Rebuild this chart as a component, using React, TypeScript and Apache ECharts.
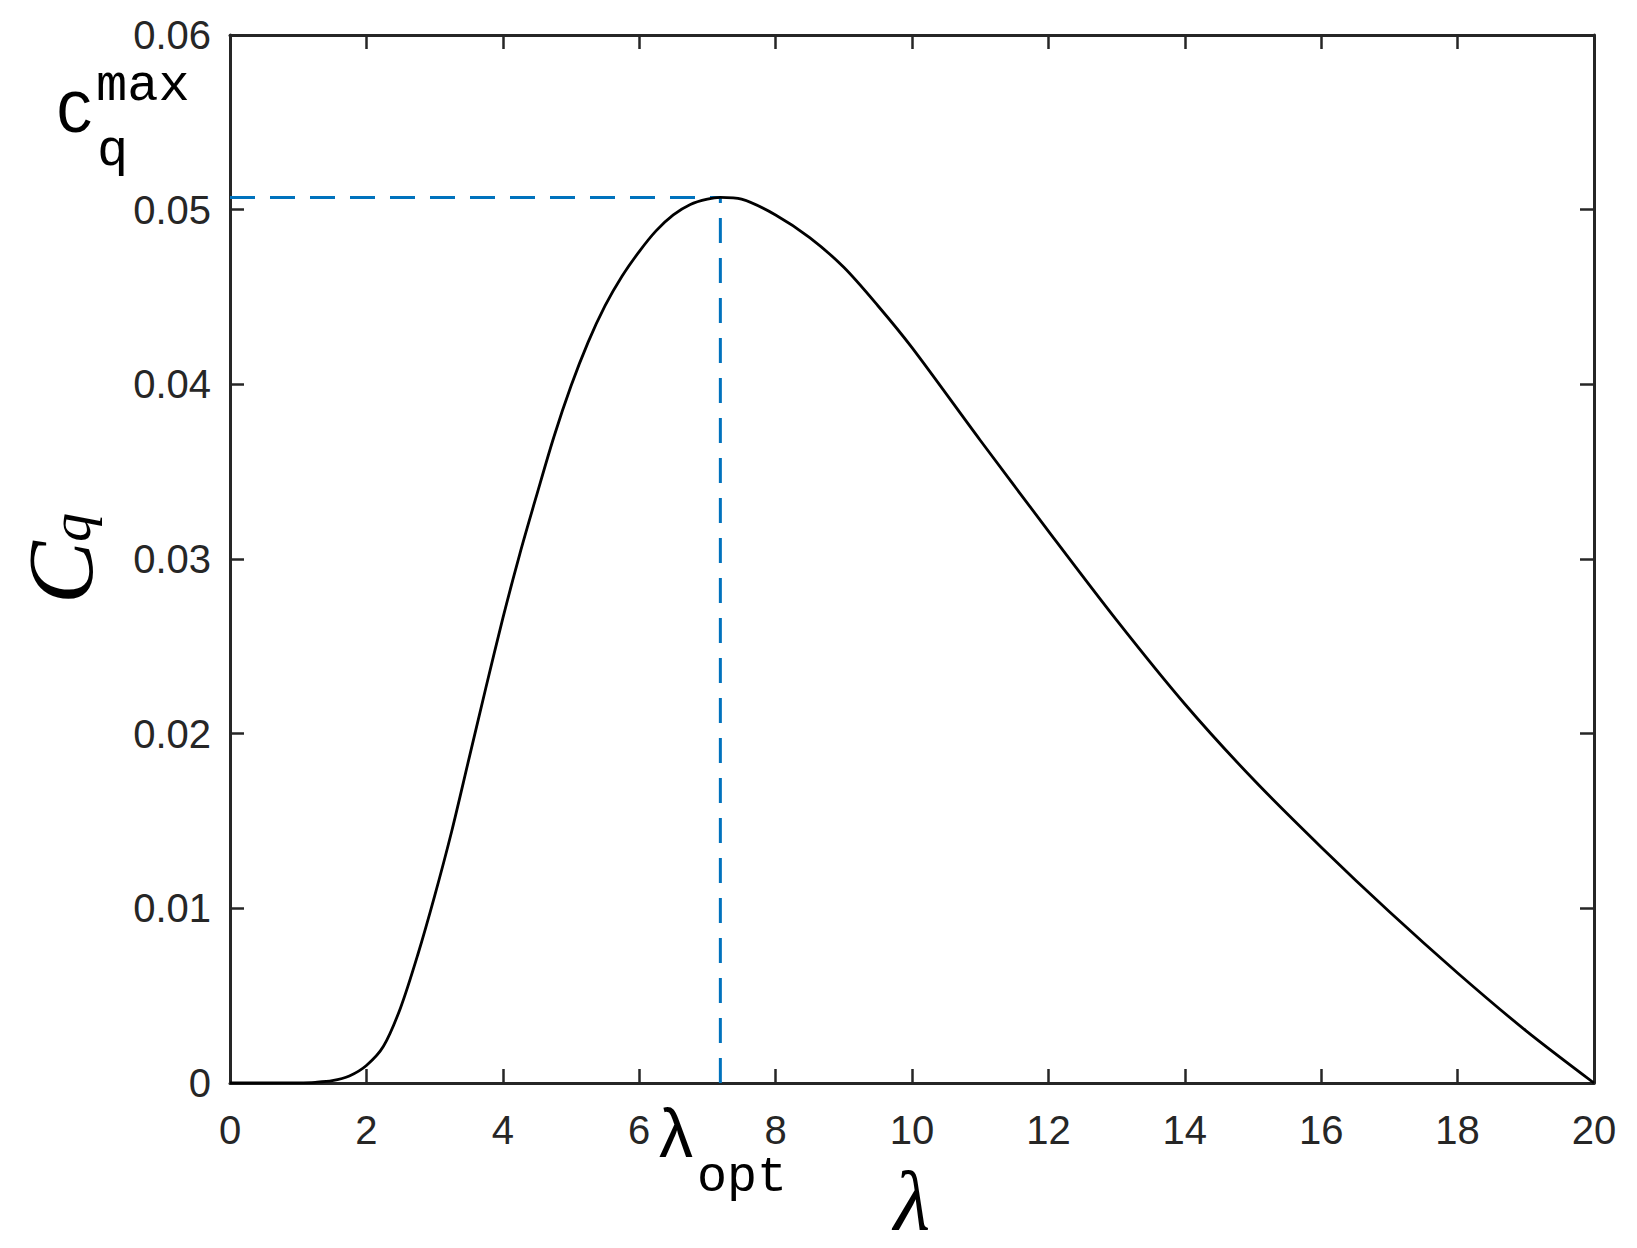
import React, { useEffect, useRef } from "react";
import * as echarts from "echarts";

// Tip-speed ratio λ and torque coefficient Cq
const LAMBDA = [
  0, 0.5, 1.0, 1.25, 1.5, 1.75, 2.0, 2.25, 2.5, 2.75, 3.0, 3.25, 3.5, 3.75, 4.0,
  4.25, 4.5, 4.75, 5.0, 5.25, 5.5, 5.75, 6.0, 6.25, 6.5, 6.75, 7.0, 7.19, 7.5, 8.0,
  8.5, 9.0, 9.5, 10, 11, 12, 13, 14, 15, 16, 17, 18, 19, 20,
];
const CQ = [
  0, 0, 0.00001, 0.00004, 0.00013, 0.0004, 0.001, 0.0021, 0.0043, 0.0073, 0.0107,
  0.0144, 0.0185, 0.0226, 0.0266, 0.0303, 0.0337, 0.037, 0.0399, 0.0424, 0.0445,
  0.0462, 0.0476, 0.0488, 0.0497, 0.0503, 0.0506, 0.0507, 0.0506, 0.0497, 0.0484,
  0.0467, 0.0445, 0.0421, 0.0368, 0.0316, 0.0265, 0.0217, 0.0174, 0.0135, 0.0098,
  0.0063, 0.003, 0,
];
const LAMBDA_OPT = 7.19;
const CQ_MAX = 0.0507;

const X_MIN = 0;
const X_MAX = 20;
const X_STEP = 2;
const Y_MIN = 0;
const Y_MAX = 0.06;
const Y_STEP = 0.01;

const AX = "#262626";
const BLUE = "#0072BD";
const SANS = "'Liberation Sans', Arial, Helvetica, sans-serif";
const MONO = "'Courier New', 'Liberation Mono', monospace";
const SERIF = "'Liberation Serif', 'Times New Roman', serif";

export default function App() {
  const ref = useRef<HTMLDivElement | null>(null);

  useEffect(() => {
    if (!ref.current) return;
    const chart = echarts.init(ref.current, null, { renderer: "svg" });

    const curve = LAMBDA.map((l, i) => [l, CQ[i]]);

    const labelStyle = { fontFamily: SANS, fontSize: 40, color: AX };

    const axisCommon = (pos: string, showLabel: boolean) => ({
      type: "value",
      position: pos,
      axisLine: { show: true, onZero: false, lineStyle: { color: AX, width: 3 } },
      axisTick: { show: true, inside: true, length: 14, lineStyle: { color: AX, width: 2.5 } },
      splitLine: { show: false },
      axisLabel: { show: showLabel, ...labelStyle },
    });

    const option: any = {
      animation: false,
      backgroundColor: "#ffffff",
      grid: { left: 230, right: 43, top: 35, bottom: 165, containLabel: false, outerBoundsMode: "none" },
      xAxis: [
        {
          ...axisCommon("bottom", true),
          min: X_MIN,
          max: X_MAX,
          interval: X_STEP,
          axisLabel: { show: true, ...labelStyle, margin: 27 },
          name: "λ",
          nameLocation: "middle",
          nameGap: 75,
          nameTextStyle: { fontFamily: SERIF, fontStyle: "italic", fontSize: 84, color: "#000" },
        },
        { ...axisCommon("top", false), min: X_MIN, max: X_MAX, interval: X_STEP },
      ],
      yAxis: [
        {
          ...axisCommon("left", true),
          min: Y_MIN,
          max: Y_MAX,
          interval: Y_STEP,
          axisLabel: {
            show: true,
            ...labelStyle,
            margin: 19,
            formatter: (v: number) => (v === 0 ? "0" : v.toFixed(2)),
          },
        },
        { ...axisCommon("right", false), min: Y_MIN, max: Y_MAX, interval: Y_STEP },
      ],
      series: [
        {
          type: "line",
          data: [[X_MIN, CQ_MAX], [LAMBDA_OPT, CQ_MAX]],
          showSymbol: false,
          lineStyle: { color: BLUE, width: 3, type: [25, 15] },
          silent: true,
          z: 2,
        },
        {
          type: "line",
          data: [[LAMBDA_OPT, Y_MIN], [LAMBDA_OPT, CQ_MAX]],
          showSymbol: false,
          lineStyle: { color: BLUE, width: 3, type: [25, 15] },
          silent: true,
          z: 2,
        },
        {
          type: "line",
          data: curve,
          showSymbol: false,
          smooth: 0.3,
          lineStyle: { color: "#000000", width: 2.8 },
          z: 3,
        },
      ],
      graphic: [
        { type: "text", x: 56, y: 132 - 0.2665 * 62, style: { text: "C", font: `62px ${MONO}`, fill: "#000", align: "left", verticalAlign: "middle" } },
        { type: "text", x: 96, y: 100 - 0.2665 * 52, style: { text: "max", font: `52px ${MONO}`, fill: "#000", align: "left", verticalAlign: "middle" } },
        { type: "text", x: 97, y: 165 - 0.2665 * 52, style: { text: "q", font: `52px ${MONO}`, fill: "#000", align: "left", verticalAlign: "middle" } },
        { type: "text", x: 659, y: 1157 - 0.3465 * 68, style: { text: "λ", font: `68px ${SANS}`, fill: "#000", align: "left", verticalAlign: "middle" } },
        { type: "text", x: 697, y: 1191 - 0.2665 * 50, style: { text: "opt", font: `50px ${MONO}`, fill: "#000", align: "left", verticalAlign: "middle" } },
        {
          type: "group",
          x: 92,
          y: 604,
          rotation: Math.PI / 2,
          children: [
            { type: "text", x: 0, y: -0.3375 * 94, style: { text: "C", font: `italic 94px ${SERIF}`, fill: "#000", align: "left", verticalAlign: "middle" } },
            { type: "text", x: 62, y: -2 - 0.3375 * 58, style: { text: "q", font: `italic 58px ${SERIF}`, fill: "#000", align: "left", verticalAlign: "middle" } },
          ],
        },
      ],
    };

    chart.setOption(option);
    return () => chart.dispose();
  }, []);

  return (
    <div
      ref={ref}
      style={{ position: "fixed", left: 0, top: 0, width: 1637, height: 1248, background: "#fff" }}
    />
  );
}
